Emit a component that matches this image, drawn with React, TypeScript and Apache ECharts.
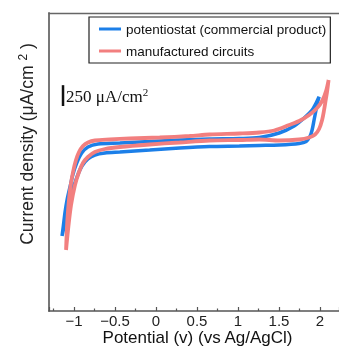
import React, { useEffect, useRef } from 'react';
import * as echarts from 'echarts';

const seriesNames = ['potentiostat (commercial product)', 'manufactured circuits'];
const xAxisTitle = 'Potential (v) (vs Ag/AgCl)';
const scaleBarValue = 250; // µA/cm²
const scaleBarX = -1.134;
const scaleBarBase = 2460;

// Potentiostat loop: [potential V, current density µA/cm² (arbitrary offset)]
const potentiostatLoop: [number, number][] = [
  [-1.146, 900], [-1.13, 1020], [-1.109, 1188], [-1.085, 1332], [-1.049, 1488],
  [-1.012, 1644], [-0.967, 1776], [-0.906, 1896], [-0.83, 1968], [-0.708, 2004],
  [-0.441, 2016], [-0.077, 2034], [0.288, 2052], [0.652, 2064], [1.017, 2070],
  [1.26, 2082], [1.503, 2136], [1.685, 2220], [1.807, 2316], [1.904, 2412],
  [1.953, 2496], [1.989, 2572],
  [1.965, 2484], [1.947, 2388], [1.928, 2292], [1.904, 2172], [1.88, 2100],
  [1.831, 2034], [1.746, 2010], [1.503, 1992], [1.26, 1986], [1.017, 1980],
  [0.652, 1974], [0.288, 1956], [-0.077, 1932], [-0.441, 1908], [-0.623, 1896],
  [-0.745, 1872], [-0.83, 1824], [-0.903, 1740], [-0.964, 1608], [-1.024, 1428],
  [-1.073, 1236], [-1.109, 1068], [-1.146, 900],
];

// Manufactured circuits loop
const circuitLoop: [number, number][] = [
  [-1.097, 732], [-1.081, 1092], [-1.049, 1452], [-1.012, 1668], [-0.976, 1812],
  [-0.939, 1908], [-0.891, 1980], [-0.83, 2022], [-0.745, 2046], [-0.563, 2058],
  [-0.32, 2070], [0.045, 2082], [0.409, 2100], [0.652, 2118], [1.017, 2130],
  [1.26, 2142], [1.442, 2166], [1.625, 2232], [1.746, 2280], [1.868, 2352],
  [1.965, 2436], [2.026, 2520], [2.074, 2640], [2.105, 2772],
  [2.086, 2628], [2.07, 2532], [2.05, 2412], [2.026, 2292], [1.989, 2184],
  [1.94, 2118], [1.868, 2082], [1.746, 2058], [1.503, 2046], [1.26, 2058],
  [1.017, 2052], [0.652, 2046], [0.288, 2022], [-0.077, 1998], [-0.441, 1968],
  [-0.623, 1944], [-0.745, 1908], [-0.83, 1848], [-0.891, 1776], [-0.939, 1668],
  [-0.988, 1512], [-1.036, 1272], [-1.073, 972], [-1.097, 732],
];

const xMin = -1.305;
const xMax = 2.232;
const yMin = 0;
const yMax = 3576;

const SANS = '"Liberation Sans", Arial, sans-serif';
const SERIF = '"Liberation Serif", "Times New Roman", serif';

export default function App() {
  const ref = useRef<HTMLDivElement>(null);
  useEffect(() => {
    const chart = echarts.init(ref.current!, null, { renderer: 'svg' });
    chart.setOption({
      animation: false,
      grid: { left: 49, right: 0, top: 13, bottom: 35, containLabel: false, outerBoundsMode: 'none' },
      legend: {
        data: seriesNames,
        orient: 'vertical',
        left: 89,
        top: 17,
        padding: [4, 4, 4, 10],
        itemGap: 6,
        itemWidth: 22,
        itemHeight: 3,
        icon: 'rect',
        borderColor: '#222',
        borderWidth: 1.2,
        backgroundColor: '#fff',
        textStyle: { fontFamily: SANS, fontSize: 13.5, color: '#111', lineHeight: 16 },
      },
      xAxis: [
        {
          type: 'value',
          min: xMin,
          max: xMax,
          minInterval: 0.5,
          maxInterval: 0.5,
          splitNumber: 7,
          axisLine: { show: true, onZero: false, lineStyle: { color: '#555', width: 1.6 } },
          axisTick: { show: true, inside: true, length: 4, lineStyle: { color: '#555', width: 1.2 } },
          minorTick: { show: true, splitNumber: 2, length: 2.5, lineStyle: { color: '#555', width: 1.2 } },
          splitLine: { show: false },
          minorSplitLine: { show: false },
          axisLabel: {
            margin: 2,
            fontFamily: SANS,
            fontSize: 15,
            lineHeight: 15,
            color: '#222',
            showMinLabel: false,
            showMaxLabel: false,
            formatter: (v: number) => String(v).replace('-', '\u2212'),
          },
        },
        {
          type: 'value',
          position: 'top',
          min: xMin,
          max: xMax,
          axisLine: { show: true, onZero: false, lineStyle: { color: '#666', width: 1.3 } },
          axisTick: { show: false },
          axisLabel: { show: false },
          splitLine: { show: false },
        },
      ],
      yAxis: {
        type: 'value',
        min: yMin,
        max: yMax,
        axisLine: { show: true, onZero: false, lineStyle: { color: '#777', width: 2 } },
        axisTick: { show: false },
        axisLabel: { show: false },
        splitLine: { show: false },
      },
      series: [
        {
          name: seriesNames[0],
          type: 'line',
          data: potentiostatLoop,
          symbol: 'none',
          smooth: 0.3,
          color: '#1c7fe8',
          lineStyle: { color: '#1c7fe8', width: 3.5 },
          z: 2,
        },
        {
          name: seriesNames[1],
          type: 'line',
          data: circuitLoop,
          symbol: 'none',
          smooth: 0.3,
          color: '#f27f7f',
          lineStyle: { color: '#f27f7f', width: 3.8 },
          z: 3,
        },
      ],
    });

    const p0 = chart.convertToPixel({ xAxisIndex: 0, yAxisIndex: 0 }, [scaleBarX, scaleBarBase]) as number[];
    const p1 = chart.convertToPixel({ xAxisIndex: 0, yAxisIndex: 0 }, [scaleBarX, scaleBarBase + scaleBarValue]) as number[];

    chart.setOption({
      graphic: [
        {
          type: 'line',
          shape: { x1: p0[0], y1: p0[1], x2: p1[0], y2: p1[1] },
          style: { stroke: '#111', lineWidth: 2.5 },
          z: 10,
        },
        {
          type: 'text',
          x: p0[0] + 3,
          y: (p0[1] + p1[1]) / 2 + 1,
          style: {
            text: '{a|' + scaleBarValue + ' μA/cm}{sup|2}',
            verticalAlign: 'middle',
            align: 'left',
            fill: '#111',
            rich: {
              a: { fontFamily: SERIF, fontSize: 17, lineHeight: 20, fill: '#111' },
              sup: { fontFamily: SERIF, fontSize: 11, lineHeight: 20, verticalAlign: 'top', fill: '#111' },
            },
          },
          z: 10,
        },
        {
          type: 'text',
          x: 197.5,
          y: 337.5,
          style: {
            text: xAxisTitle,
            align: 'center',
            verticalAlign: 'middle',
            fontFamily: SANS,
            fontSize: 17,
            lineHeight: 17,
            fill: '#111',
          },
          z: 10,
        },
        {
          type: 'text',
          x: 27,
          y: 144,
          rotation: Math.PI / 2,
          style: {
            text: '{a|Current density (μA/cm }{sup|2}{a| )}',
            align: 'center',
            verticalAlign: 'middle',
            fill: '#222',
            rich: {
              a: { fontFamily: SANS, fontSize: 17.5, lineHeight: 20, fill: '#222' },
              sup: { fontFamily: SANS, fontSize: 12, lineHeight: 20, verticalAlign: 'top', fill: '#222' },
            },
          },
          z: 10,
        },
      ],
    });

    return () => chart.dispose();
  }, []);
  return <div ref={ref} style={{ position: 'fixed', left: 0, top: 0, width: 339, height: 346 }} />;
}
